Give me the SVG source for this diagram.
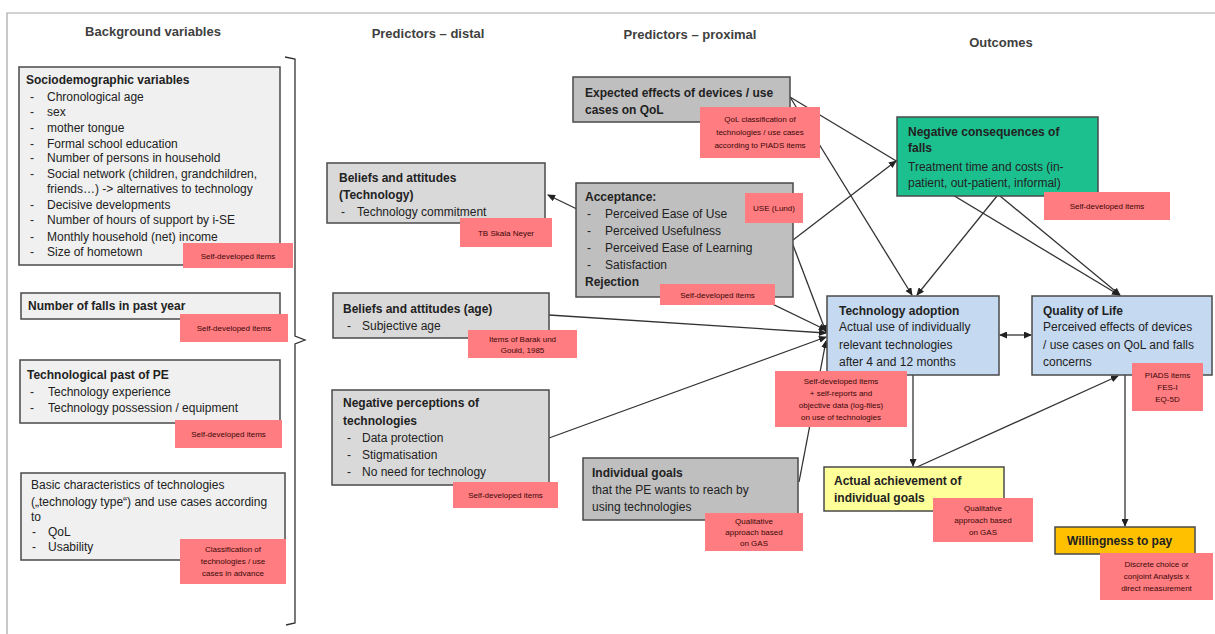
<svg xmlns="http://www.w3.org/2000/svg" width="1215" height="634" viewBox="0 0 1215 634">
<style>
text{font-family:"Liberation Sans",Arial,sans-serif;fill:#222;}
.hd{font-size:13px;font-weight:bold;fill:#404040;text-anchor:middle;}
.t{font-size:12px;}
.b{font-weight:bold;}
.bx{stroke:#4a4a4a;stroke-width:1.5;}
.bg{fill:#f0f0f0;}
.dg{fill:#d9d9d9;}
.pg{fill:#bfbfbf;}
.lb{fill:#ff7c80;}
.lt{font-size:8px;fill:#3a0808;text-anchor:middle;}
.c{stroke:#333;stroke-width:1.3;fill:none;}
.frame{stroke:#a6a6a6;stroke-width:1.2;fill:none;}
</style>
<defs>
<marker id="ah" markerWidth="8" markerHeight="7" refX="7" refY="3.5" orient="auto-start-reverse" markerUnits="userSpaceOnUse">
<path d="M0,0 L8,3.5 L0,7 Z" fill="#222"/>
</marker>
</defs>
<rect width="1215" height="634" fill="#fff"/>
<path class="frame" d="M7,634 L7,13 L1215,13"/>
<g id="headers">
<text class="hd" x="153" y="36">Background variables</text>
<text class="hd" x="428" y="38">Predictors – distal</text>
<text class="hd" x="690" y="39">Predictors – proximal</text>
<text class="hd" x="1001" y="47">Outcomes</text>
</g>
<g id="connectors">
<line class="c" x1="548" y1="195" x2="826" y2="330" marker-start="url(#ah)" marker-end="url(#ah)"/>
<line class="c" x1="790" y1="97" x2="1119" y2="295" marker-end="url(#ah)"/>
<line class="c" x1="790" y1="97" x2="912" y2="295" marker-end="url(#ah)"/>
<line class="c" x1="793" y1="240" x2="896" y2="161" marker-end="url(#ah)"/>
<line class="c" x1="793" y1="245" x2="826" y2="332" marker-end="url(#ah)"/>
<line class="c" x1="997" y1="196" x2="917" y2="295" marker-end="url(#ah)"/>
<line class="c" x1="1000" y1="196" x2="1120" y2="295" marker-end="url(#ah)"/>
<line class="c" x1="549" y1="315" x2="826" y2="333" marker-end="url(#ah)"/>
<line class="c" x1="549" y1="438" x2="826" y2="337" marker-end="url(#ah)"/>
<line class="c" x1="799" y1="482" x2="826" y2="341" marker-end="url(#ah)"/>
<line class="c" x1="913" y1="375" x2="913" y2="466" marker-end="url(#ah)"/>
<line class="c" x1="917" y1="467" x2="1118" y2="376" marker-end="url(#ah)"/>
<line class="c" x1="1125" y1="375" x2="1125" y2="526" marker-end="url(#ah)"/>
<line class="c" x1="1000" y1="335" x2="1031" y2="335" marker-start="url(#ah)" marker-end="url(#ah)"/>
<path class="c" stroke-width="1.8" d="M285,57 L295,59 L295,336 L305,340 L295,344 L295,623 L286,625"/>
</g>
<g id="sociodemographic">
<rect class="bx bg" x="19" y="67" width="261" height="198"/>
<text class="t b" x="26" y="84">Sociodemographic variables</text>
<text class="t" x="30" y="101">-</text><text class="t" x="47" y="101">Chronological age</text>
<text class="t" x="30" y="116">-</text><text class="t" x="47" y="116">sex</text>
<text class="t" x="30" y="132">-</text><text class="t" x="47" y="132">mother tongue</text>
<text class="t" x="30" y="148">-</text><text class="t" x="47" y="148">Formal school education</text>
<text class="t" x="30" y="162">-</text><text class="t" x="47" y="162">Number of persons in household</text>
<text class="t" x="30" y="178">-</text><text class="t" x="47" y="178">Social network (children, grandchildren,</text>
<text class="t" x="47" y="193">friends…) -&gt; alternatives to technology</text>
<text class="t" x="30" y="209">-</text><text class="t" x="47" y="209">Decisive developments</text>
<text class="t" x="30" y="224">-</text><text class="t" x="47" y="224">Number of hours of support by i-SE</text>
<text class="t" x="30" y="241">-</text><text class="t" x="47" y="241">Monthly household (net) income</text>
<text class="t" x="30" y="256">-</text><text class="t" x="47" y="256">Size of hometown</text>
<rect class="lb" x="183" y="243" width="110" height="25"/>
<text class="lt" x="238" y="258.5">Self-developed items</text>
</g>
<g id="falls">
<rect class="bx bg" x="21" y="293" width="259" height="26"/>
<text class="t b" x="28" y="310">Number of falls in past year</text>
<rect class="lb" x="180" y="314" width="108" height="28"/>
<text class="lt" x="234" y="331">Self-developed items</text>
</g>
<g id="techpast">
<rect class="bx bg" x="20" y="360" width="260" height="63"/>
<text class="t b" x="27" y="379">Technological past of PE</text>
<text class="t" x="30" y="396">-</text><text class="t" x="48" y="396">Technology experience</text>
<text class="t" x="30" y="412">-</text><text class="t" x="48" y="412">Technology possession / equipment</text>
<rect class="lb" x="175" y="420" width="107" height="28"/>
<text class="lt" x="228.5" y="437">Self-developed items</text>
</g>
<g id="basics">
<rect class="bx bg" x="21" y="473" width="264" height="87"/>
<text class="t" x="31" y="489">Basic characteristics of technologies</text>
<text class="t" x="31" y="506">(„technology type“) and use cases according</text>
<text class="t" x="31" y="521">to</text>
<text class="t" x="32" y="536">-</text><text class="t" x="48" y="536">QoL</text>
<text class="t" x="32" y="551">-</text><text class="t" x="48" y="551">Usability</text>
<rect class="lb" x="180" y="539" width="106" height="45"/>
<text class="lt" x="233" y="552">Classification of</text>
<text class="lt" x="233" y="564">technologies / use</text>
<text class="lt" x="233" y="576">cases in advance</text>
</g>
<g id="beliefs-tech">
<rect class="bx dg" x="327" y="163" width="218" height="60"/>
<text class="t b" x="339" y="182">Beliefs and attitudes</text>
<text class="t b" x="339" y="199">(Technology)</text>
<text class="t" x="341" y="216">-</text><text class="t" x="357" y="216">Technology commitment</text>
<rect class="lb" x="460" y="218" width="92" height="29"/>
<text class="lt" x="506" y="235.5">TB Skala Neyer</text>
</g>
<g id="beliefs-age">
<rect class="bx dg" x="333" y="293" width="216" height="45"/>
<text class="t b" x="343" y="313">Beliefs and attitudes (age)</text>
<text class="t" x="347" y="330">-</text><text class="t" x="362" y="330">Subjective age</text>
<rect class="lb" x="468" y="330" width="109" height="28"/>
<text class="lt" x="522.5" y="342">Items of Barak und</text>
<text class="lt" x="522.5" y="353">Gould, 1985</text>
</g>
<g id="negative-perceptions">
<rect class="bx dg" x="332" y="390" width="217" height="95"/>
<text class="t b" x="343" y="407">Negative perceptions of</text>
<text class="t b" x="343" y="425">technologies</text>
<text class="t" x="347" y="442">-</text><text class="t" x="362" y="442">Data protection</text>
<text class="t" x="347" y="459">-</text><text class="t" x="362" y="459">Stigmatisation</text>
<text class="t" x="347" y="476">-</text><text class="t" x="362" y="476">No need for technology</text>
<rect class="lb" x="453" y="482" width="105" height="26"/>
<text class="lt" x="505.5" y="498">Self-developed items</text>
</g>
<g id="expected-effects">
<rect class="bx pg" x="573" y="77" width="217" height="45"/>
<text class="t b" x="585" y="97">Expected effects of devices / use</text>
<text class="t b" x="585" y="114">cases on QoL</text>
<rect class="lb" x="700" y="107" width="120" height="51"/>
<text class="lt" x="760" y="122">QoL classification of</text>
<text class="lt" x="760" y="135">technologies / use cases</text>
<text class="lt" x="760" y="148">according to PIADS items</text>
</g>
<g id="acceptance">
<rect class="bx pg" x="576" y="183" width="217" height="114"/>
<text class="t b" x="585" y="201">Acceptance:</text>
<text class="t" x="587" y="218">-</text><text class="t" x="605" y="218">Perceived Ease of Use</text>
<text class="t" x="587" y="235">-</text><text class="t" x="605" y="235">Perceived Usefulness</text>
<text class="t" x="587" y="252">-</text><text class="t" x="605" y="252">Perceived Ease of Learning</text>
<text class="t" x="587" y="269">-</text><text class="t" x="605" y="269">Satisfaction</text>
<text class="t b" x="585" y="286">Rejection</text>
<rect class="lb" x="745" y="193" width="58" height="30"/>
<text class="lt" x="774" y="211">USE (Lund)</text>
<rect class="lb" x="660" y="284" width="115" height="21"/>
<text class="lt" x="717.5" y="297.5">Self-developed items</text>
</g>
<g id="individual-goals">
<rect class="bx pg" x="583" y="458" width="215" height="62"/>
<text class="t b" x="592" y="477">Individual goals</text>
<text class="t" x="592" y="494">that the PE wants to reach by</text>
<text class="t" x="592" y="511">using technologies</text>
<rect class="lb" x="705" y="513" width="98" height="38"/>
<text class="lt" x="754" y="524">Qualitative</text>
<text class="lt" x="754" y="535">approach based</text>
<text class="lt" x="754" y="546">on GAS</text>
</g>
<g id="negative-consequences">
<rect class="bx" fill="#1cc08f" x="897" y="117" width="201" height="79"/>
<text class="t b" x="908" y="136">Negative consequences of</text>
<text class="t b" x="908" y="152">falls</text>
<text class="t" x="908" y="171">Treatment time and costs (in-</text>
<text class="t" x="908" y="187">patient, out-patient, informal)</text>
<rect class="lb" x="1044" y="192" width="126" height="28"/>
<text class="lt" x="1107" y="209">Self-developed items</text>
</g>
<g id="technology-adoption">
<rect class="bx" fill="#c5d9f1" x="827" y="296" width="172" height="79"/>
<text class="t b" x="839" y="315">Technology adoption</text>
<text class="t" x="839" y="331">Actual use of individually</text>
<text class="t" x="839" y="349">relevant technologies</text>
<text class="t" x="839" y="366">after 4 and 12 months</text>
<rect class="lb" x="775" y="371" width="132" height="56"/>
<text class="lt" x="841" y="384">Self-developed items</text>
<text class="lt" x="841" y="396">+ self-reports and</text>
<text class="lt" x="841" y="408">objective data (log-files)</text>
<text class="lt" x="841" y="420">on use of technologies</text>
</g>
<g id="quality-of-life">
<rect class="bx" fill="#c5d9f1" x="1032" y="296" width="180" height="79"/>
<text class="t b" x="1043" y="315">Quality of Life</text>
<text class="t" x="1043" y="331">Perceived effects of devices</text>
<text class="t" x="1043" y="349">/ use cases on QoL and falls</text>
<text class="t" x="1043" y="366">concerns</text>
<rect class="lb" x="1132" y="363" width="71" height="48"/>
<text class="lt" x="1167.5" y="378">PIADS items</text>
<text class="lt" x="1167.5" y="390">FES-I</text>
<text class="lt" x="1167.5" y="402">EQ-5D</text>
</g>
<g id="actual-achievement">
<rect class="bx" fill="#ffff99" x="824" y="467" width="180" height="44"/>
<text class="t b" x="834" y="485">Actual achievement of</text>
<text class="t b" x="834" y="502">individual goals</text>
<rect class="lb" x="933" y="498" width="100" height="44"/>
<text class="lt" x="983" y="511">Qualitative</text>
<text class="lt" x="983" y="523">approach based</text>
<text class="lt" x="983" y="535">on GAS</text>
</g>
<g id="willingness-to-pay">
<rect class="bx" fill="#ffc000" x="1055" y="527" width="140" height="27"/>
<text class="t b" x="1067" y="545">Willingness to pay</text>
<rect class="lb" x="1100" y="553" width="113" height="47"/>
<text class="lt" x="1156.5" y="567">Discrete choice or</text>
<text class="lt" x="1156.5" y="579">conjoint Analysis x</text>
<text class="lt" x="1156.5" y="591">direct measurement</text>
</g>
</svg>
